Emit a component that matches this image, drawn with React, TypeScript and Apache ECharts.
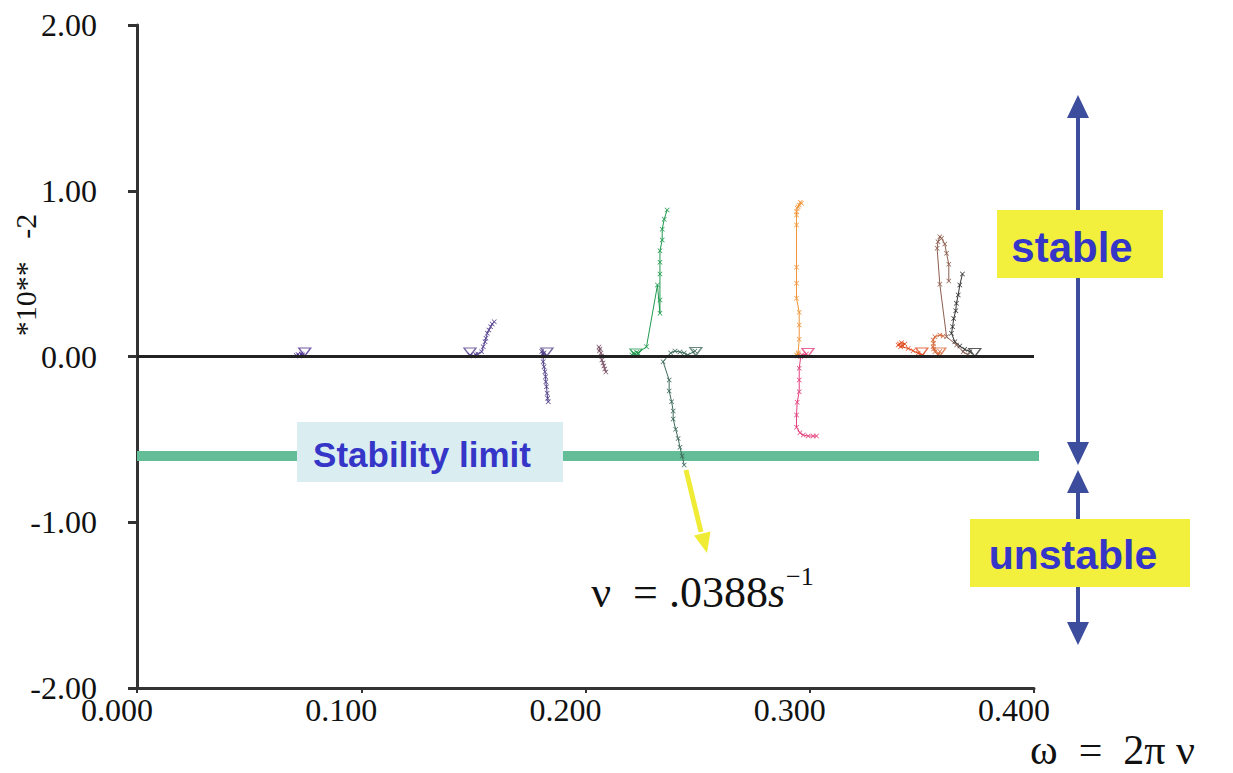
import React, { useEffect, useRef } from "react";
import * as echarts from "echarts";

// ---- data ----
const xTicks = [0, 0.1, 0.2, 0.3, 0.4];
const yTicks = [-2, -1, 0, 1, 2];
const stabilityLimit = -0.6;
const stabilityLineX = [0, 0.407];

const traceA = [[0.0710, 0.006], [0.0718, 0.012], [0.0725, 0.003], [0.0732, 0.015], [0.0738, 0.009]];
const triA = [0.0748, 0.027];

const traceB = [[0.1485, 0.009], [0.1500, 0.003], [0.1510, 0.012], [0.1520, 0.015], [0.1537, 0.029], [0.1544, 0.059], [0.1552, 0.089], [0.1556, 0.110], [0.1562, 0.140], [0.1569, 0.160], [0.1577, 0.180], [0.1584, 0.196], [0.1593, 0.210]];
const triB = [0.1485, 0.027];

const traceC = [[0.1805, 0.030], [0.1810, 0.015], [0.1815, 0.021], [0.1812, 0.003], [0.1811, -0.031], [0.1815, -0.062], [0.1819, -0.092], [0.1822, -0.122], [0.1823, -0.152], [0.1826, -0.182], [0.1829, -0.222], [0.1831, -0.252], [0.1834, -0.273]];
const triC = [0.1828, 0.027];

const traceD = [[0.2060, 0.057], [0.2064, 0.045], [0.2062, 0.033], [0.2069, 0.021], [0.2073, 0.003], [0.2073, -0.021], [0.2078, -0.039], [0.2082, -0.057], [0.2086, -0.075], [0.2091, -0.094]];

const traceE = [[0.2207, 0.009], [0.2215, 0.021], [0.2220, 0.015], [0.2228, 0.024], [0.2234, 0.021], [0.2272, 0.059], [0.2321, 0.431], [0.2332, 0.261], [0.2332, 0.341], [0.2332, 0.498], [0.2332, 0.568], [0.2332, 0.638], [0.2342, 0.703], [0.2342, 0.767], [0.2351, 0.828], [0.2364, 0.884]];
const triE = [0.2225, 0.021];

const traceF = [[0.2488, 0.033], [0.2456, 0.009], [0.2440, 0.021], [0.2421, 0.027], [0.2399, 0.033], [0.2380, 0.021], [0.2346, -0.031], [0.2373, -0.142], [0.2373, -0.208], [0.2384, -0.273], [0.2391, -0.329], [0.2391, -0.377], [0.2402, -0.439], [0.2413, -0.494], [0.2421, -0.547], [0.2431, -0.600], [0.2440, -0.654]];
const triF = [0.2492, 0.030];

const traceG = [[0.2945, 0.003], [0.2950, 0.015], [0.2941, 0.009], [0.2948, 0.023], [0.2953, 0.104], [0.2953, 0.190], [0.2953, 0.267], [0.2941, 0.351], [0.2941, 0.442], [0.2941, 0.538], [0.2941, 0.794], [0.2941, 0.854], [0.2941, 0.874], [0.2944, 0.894], [0.2953, 0.914], [0.2963, 0.924], [0.2958, 0.930], [0.2948, 0.904]];

const traceH = [[0.2985, 0.015], [0.2965, 0.009], [0.2975, 0.003], [0.2960, 0.000], [0.2953, -0.071], [0.2953, -0.142], [0.2953, -0.212], [0.2944, -0.276], [0.2941, -0.353], [0.2941, -0.427], [0.2956, -0.460], [0.2971, -0.474], [0.2993, -0.480], [0.3015, -0.480], [0.3030, -0.480]];
const triH = [0.2992, 0.024];

const traceI = [[0.3394, 0.069], [0.3400, 0.075], [0.3409, 0.083], [0.3424, 0.075], [0.3415, 0.065], [0.3405, 0.059], [0.3439, 0.049], [0.3461, 0.035], [0.3483, 0.019], [0.3503, 0.009]];
const triI = [0.3500, 0.027];

const traceJ = [[0.3580, 0.030], [0.3572, 0.009], [0.3558, 0.029], [0.3552, 0.045], [0.3550, 0.059], [0.3552, 0.080], [0.3550, 0.100], [0.3558, 0.119], [0.3580, 0.130], [0.3595, 0.124]];
const triJ = [0.3580, 0.027];

const traceK = [[0.3706, 0.009], [0.3684, 0.029], [0.3655, 0.069], [0.3610, 0.119], [0.3580, 0.436], [0.3568, 0.653], [0.3572, 0.693], [0.3580, 0.723], [0.3588, 0.713], [0.3602, 0.679], [0.3610, 0.623], [0.3620, 0.556], [0.3620, 0.456]];

const traceL = [[0.3714, 0.029], [0.3691, 0.043], [0.3669, 0.063], [0.3647, 0.089], [0.3632, 0.140], [0.3637, 0.179], [0.3642, 0.230], [0.3651, 0.276], [0.3654, 0.321], [0.3662, 0.371], [0.3669, 0.431], [0.3681, 0.498]];
const triL = [0.3736, 0.024];

const traces = [
  { name: "A", data: traceA, tri: triA, color: "#4b2d8f" },
  { name: "B", data: traceB, tri: triB, color: "#55408f" },
  { name: "C", data: traceC, tri: triC, color: "#4f3e86" },
  { name: "D", data: traceD, tri: null, color: "#7b5468" },
  { name: "E", data: traceE, tri: triE, color: "#1f9a4e" },
  { name: "F", data: traceF, tri: triF, color: "#3e6a5a" },
  { name: "G", data: traceG, tri: null, color: "#f0963a" },
  { name: "H", data: traceH, tri: triH, color: "#e2407c" },
  { name: "I", data: traceI, tri: triI, color: "#e04a1e" },
  { name: "J", data: traceJ, tri: triJ, color: "#d4683a" },
  { name: "K", data: traceK, tri: null, color: "#8c5e4e" },
  { name: "L", data: traceL, tri: triL, color: "#333333" },
];

const CROSS = "path://M0,1L1,0L5,4L9,0L10,1L6,5L10,9L9,10L5,6L1,10L0,9L4,5Z";
const SERIF = "Liberation Serif";
const SANS = "Liberation Sans";

export default function App() {
  const ref = useRef<HTMLDivElement>(null);
  useEffect(() => {
    if (!ref.current) return;
    const chart = echarts.init(ref.current, null, { renderer: "svg" });
    const series: any[] = [
      {
        type: "line",
        data: [],
        z: 1,
        silent: true,
        markLine: {
          silent: true,
          symbol: "none",
          animation: false,
          label: { show: false },
          data: [{ yAxis: 0, lineStyle: { color: "#222", width: 3, type: "solid" } }],
        },
      },
      {
        type: "line",
        data: stabilityLineX.map((x) => [x, stabilityLimit]),
        z: 1,
        silent: true,
        clip: false,
        symbol: "none",
        lineStyle: { color: "#63bd96", width: 10 },
      },
    ];
    traces.forEach((t) => {
      series.push({
        type: "line",
        name: t.name,
        data: t.data,
        z: 3,
        symbol: CROSS,
        symbolSize: 5,
        showAllSymbol: true,
        lineStyle: { color: t.color, width: 1 },
        itemStyle: { color: t.color },
      });
      if (t.tri) {
        series.push({
          type: "scatter",
          data: [t.tri],
          z: 4,
          symbol: "triangle",
          symbolRotate: 180,
          symbolSize: [12, 8],
          itemStyle: { color: "rgba(255,255,255,0)", borderColor: t.color, borderWidth: 1.3 },
        });
      }
    });

    chart.setOption({
      animation: false,
      backgroundColor: "#ffffff",
      grid: { left: 137, right: 199, top: 25, bottom: 85, containLabel: false },
      xAxis: {
        type: "value",
        min: xTicks[0],
        max: xTicks[xTicks.length - 1],
        interval: 0.1,
        axisLine: { show: true, onZero: false, lineStyle: { color: "#333", width: 3 } },
        axisTick: { show: true, length: 5, lineStyle: { color: "#333", width: 2 } },
        axisLabel: {
          formatter: (v: number) => v.toFixed(3),
          fontFamily: SERIF,
          fontSize: 32,
          color: "#111",
          margin: 6,
          padding: [0, 40, 0, 0],
        },
        splitLine: { show: false },
      },
      yAxis: {
        type: "value",
        min: yTicks[0],
        max: yTicks[yTicks.length - 1],
        interval: 1,
        axisLine: { show: true, onZero: false, lineStyle: { color: "#333", width: 3 } },
        axisTick: { show: true, length: 9, lineStyle: { color: "#333", width: 3 } },
        axisLabel: {
          formatter: (v: number) => v.toFixed(2),
          fontFamily: SERIF,
          fontSize: 32,
          color: "#111",
          margin: 40,
        },
        splitLine: { show: false },
      },
      series,
      graphic: [
        {
          type: "text",
          x: 25,
          y: 275,
          rotation: Math.PI / 2,
          z: 100,
          style: { text: "*10**   -2", fontFamily: SERIF, fontSize: 30, fill: "#111", align: "center", verticalAlign: "middle" },
        },
        {
          type: "text",
          x: 1030,
          y: 750,
          z: 100,
          style: { text: "ω  =  2π ν", fontFamily: SERIF, fontSize: 42, fill: "#111", align: "left", verticalAlign: "middle" },
        },
        {
          type: "text",
          x: 785,
          y: 592,
          z: 100,
          style: {
            text: "{a|ν  = .0388}{i|s}",
            align: "right",
            verticalAlign: "middle",
            rich: {
              a: { fontFamily: SERIF, fontSize: 44, fill: "#111" },
              i: { fontFamily: SERIF, fontSize: 44, fontStyle: "italic", fill: "#111" },
            },
          },
        },
        {
          type: "text",
          x: 786,
          y: 576,
          z: 100,
          style: { text: "−1", fontFamily: SERIF, fontSize: 26, fill: "#111", align: "left", verticalAlign: "middle" },
        },
        { type: "rect", z: 100, shape: { x: 297, y: 422, width: 266, height: 60 }, style: { fill: "#daeef2" } },
        {
          type: "text",
          x: 422,
          y: 454,
          z: 101,
          style: { text: "Stability limit", fontFamily: SANS, fontWeight: "bold", fontSize: 35, fill: "#3535c8", align: "center", verticalAlign: "middle" },
        },
        // blue arrows
        { type: "line", z: 90, shape: { x1: 1078, y1: 112, x2: 1078, y2: 448 }, style: { stroke: "#3b4d9c", lineWidth: 4 } },
        { type: "polygon", z: 90, shape: { points: [[1078, 95], [1067, 118], [1089, 118]] }, style: { fill: "#3b4d9c" } },
        { type: "polygon", z: 90, shape: { points: [[1078, 465], [1067, 442], [1089, 442]] }, style: { fill: "#3b4d9c" } },
        { type: "line", z: 90, shape: { x1: 1078, y1: 488, x2: 1078, y2: 628 }, style: { stroke: "#3b4d9c", lineWidth: 4 } },
        { type: "polygon", z: 90, shape: { points: [[1078, 470], [1067, 493], [1089, 493]] }, style: { fill: "#3b4d9c" } },
        { type: "polygon", z: 90, shape: { points: [[1078, 645], [1067, 622], [1089, 622]] }, style: { fill: "#3b4d9c" } },
        // yellow boxes
        { type: "rect", z: 100, shape: { x: 997, y: 210, width: 166, height: 68 }, style: { fill: "#f2f03c" } },
        {
          type: "text",
          x: 1072,
          y: 247,
          z: 101,
          style: { text: "stable", fontFamily: SANS, fontWeight: "bold", fontSize: 42, fill: "#3535c8", align: "center", verticalAlign: "middle" },
        },
        { type: "rect", z: 100, shape: { x: 970, y: 519, width: 220, height: 68 }, style: { fill: "#f2f03c" } },
        {
          type: "text",
          x: 1073,
          y: 555,
          z: 101,
          style: { text: "unstable", fontFamily: SANS, fontWeight: "bold", fontSize: 41, fill: "#3535c8", align: "center", verticalAlign: "middle" },
        },
        // yellow arrow
        { type: "line", z: 100, shape: { x1: 686, y1: 470, x2: 701, y2: 532 }, style: { stroke: "#f0ec36", lineWidth: 5 } },
        {
          type: "polygon",
          z: 100,
          shape: { points: [[707, 553], [710.5, 531.5], [694, 535.5]] },
          style: { fill: "#f0ec36" },
        },
      ],
    });
    return () => chart.dispose();
  }, []);
  return <div ref={ref} style={{ position: "fixed", left: 0, top: 0, width: 1233, height: 773, background: "#fff" }} />;
}
